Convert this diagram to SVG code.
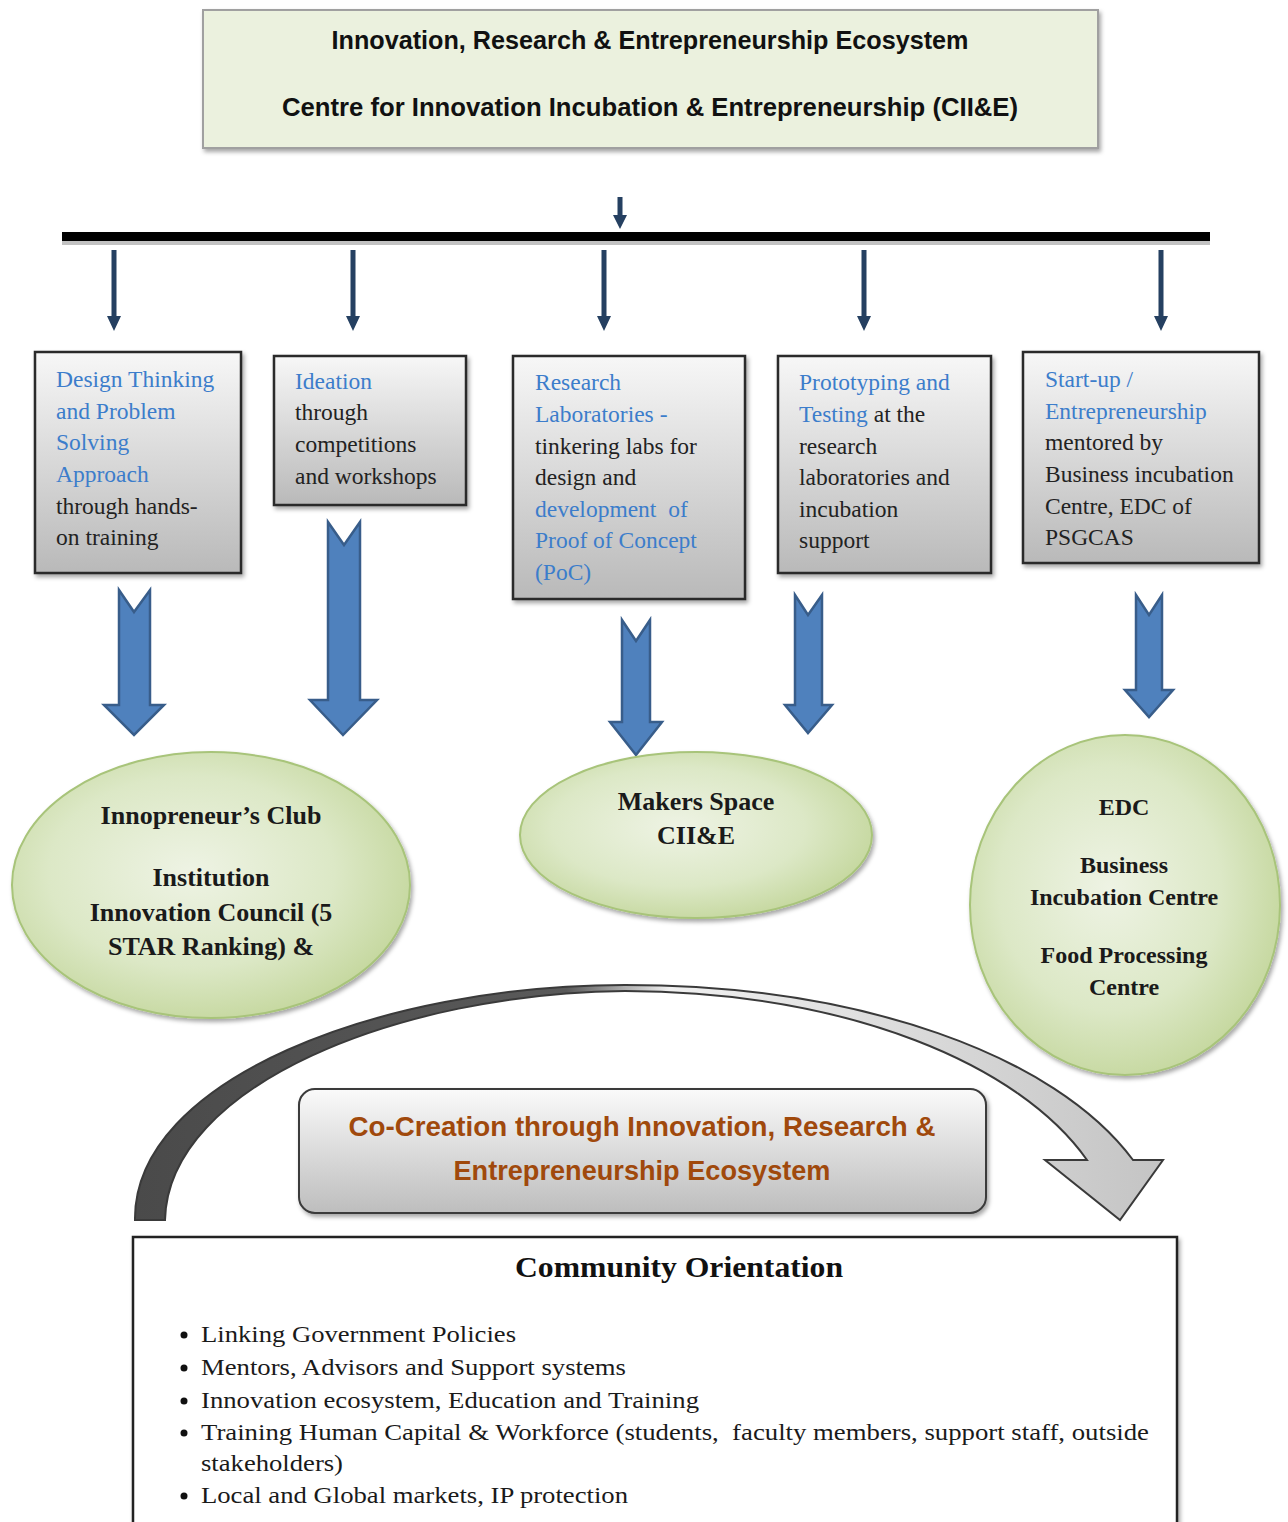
<svg xmlns="http://www.w3.org/2000/svg" width="1288" height="1522" viewBox="0 0 1288 1522">
<style>
.sans{font-family:"Liberation Sans",Arial,sans-serif;font-weight:bold}
.ser{font-family:"Liberation Serif","Times New Roman",serif}
.bt{font-size:23.5px;fill:#222}
.bl{fill:#3c7dcb}
.el{font-family:"Liberation Serif","Times New Roman",serif;font-weight:bold;fill:#1a1a1a;text-anchor:middle}
.gbox{fill:url(#gray);stroke:#2b2b2b;stroke-width:2.5;filter:url(#sh)}
.ell{fill:url(#green);stroke:#a8c47a;stroke-width:2;filter:url(#sh)}
.big{fill:#4f81bd;stroke:#385d8a;stroke-width:2.5}
.sm{fill:#254061}
.li{font-family:"Liberation Serif","Times New Roman",serif;font-size:24px;fill:#1a1a1a}
</style>
<defs>
<linearGradient id="gray" x1="0" y1="0" x2="0" y2="1">
<stop offset="0" stop-color="#f7f7f7"/><stop offset="1" stop-color="#b9b9b9"/>
</linearGradient>
<linearGradient id="gray2" x1="0" y1="0" x2="0" y2="1">
<stop offset="0" stop-color="#fafafa"/><stop offset="1" stop-color="#bdbdbd"/>
</linearGradient>
<radialGradient id="green" cx="0.45" cy="0.45" r="0.6">
<stop offset="0" stop-color="#eef3e4"/><stop offset="0.6" stop-color="#dce8c6"/><stop offset="1" stop-color="#c3d69b"/>
</radialGradient>
<linearGradient id="curve" x1="0" y1="0" x2="1" y2="0">
<stop offset="0" stop-color="#4a4a4a"/><stop offset="0.42" stop-color="#5a5a5a"/><stop offset="0.52" stop-color="#f0f0f0"/><stop offset="1" stop-color="#c4c4c4"/>
</linearGradient>
<filter id="sh" x="-10%" y="-10%" width="125%" height="125%">
<feDropShadow dx="2" dy="3" stdDeviation="2" flood-color="#000" flood-opacity="0.35"/>
</filter>
</defs>

<g id="top-box">
<rect x="203" y="10" width="895" height="138" fill="#ebf1de" stroke="#a0a0a0" stroke-width="2" filter="url(#sh)"/>
<text class="sans" x="650" y="49" font-size="25" text-anchor="middle" textLength="637" lengthAdjust="spacingAndGlyphs" fill="#111">Innovation, Research &amp; Entrepreneurship Ecosystem</text>
<text class="sans" x="650" y="116" font-size="25" text-anchor="middle" textLength="736" lengthAdjust="spacingAndGlyphs" fill="#111">Centre for Innovation Incubation &amp; Entrepreneurship (CII&amp;E)</text>
</g>

<g id="connectors">
<path class="sm" d="M617.5,197 L622.5,197 L622.5,215 L627,215 L620,229 L613,215 L617.5,215 Z"/>
<rect x="62" y="239" width="1148" height="6" fill="#999" opacity="0.6"/>
<rect x="62" y="232" width="1148" height="9" fill="#000"/>
<path class="sm" d="M111.5,250 L116.5,250 L116.5,316 L121,316 L114,331 L107,316 L111.5,316 Z"/>
<path class="sm" d="M350.5,250 L355.5,250 L355.5,316 L360,316 L353,331 L346,316 L350.5,316 Z"/>
<path class="sm" d="M601.5,250 L606.5,250 L606.5,316 L611,316 L604,331 L597,316 L601.5,316 Z"/>
<path class="sm" d="M861.5,250 L866.5,250 L866.5,316 L871,316 L864,331 L857,316 L861.5,316 Z"/>
<path class="sm" d="M1158.5,250 L1163.5,250 L1163.5,316 L1168,316 L1161,331 L1154,316 L1158.5,316 Z"/>

<path class="big" d="M119,590 L134,612 L150,590 L150,705 L164,705 L134,735 L104,705 L119,705 Z"/>
<path class="big" d="M328,522 L344,545 L360,522 L360,700 L377,700 L343,735 L310,700 L328,700 Z"/>
<path class="big" d="M622,620 L636,641 L650,620 L650,722 L662,722 L636,755 L610,722 L622,722 Z"/>
<path class="big" d="M795,595 L808,615 L822,595 L822,705 L832,705 L808,733 L785,705 L795,705 Z"/>
<path class="big" d="M1136,595 L1149,615 L1162,595 L1162,690 L1173,690 L1149,717 L1125,690 L1136,690 Z"/>

<path d="M135,1220 C133,1080 380,985 625,985 C860,985 1055,1055 1133,1160 L1163,1160 L1120,1220 L1045,1160 L1087,1160 C1020,1065 850,992 625,991 C400,993 168,1085 165,1220 Z" fill="url(#curve)" stroke="#3a3a3a" stroke-width="2"/>
</g>

<g id="box-design">
<rect class="gbox" x="35" y="352" width="206" height="221"/>
<text class="ser bt" x="56"><tspan class="bl" x="56" y="387">Design Thinking</tspan><tspan class="bl" x="56" y="418.5">and Problem</tspan><tspan class="bl" x="56" y="450">Solving</tspan><tspan class="bl" x="56" y="482">Approach</tspan><tspan x="56" y="514">through hands-</tspan><tspan x="56" y="545">on training</tspan></text>
</g>

<g id="box-ideation">
<rect class="gbox" x="274" y="356" width="192" height="149"/>
<text class="ser bt"><tspan class="bl" x="295" y="389">Ideation</tspan><tspan x="295" y="420">through</tspan><tspan x="295" y="452">competitions</tspan><tspan x="295" y="484">and workshops</tspan></text>
</g>

<g id="box-research">
<rect class="gbox" x="513" y="356" width="232" height="243"/>
<text class="ser bt"><tspan class="bl" x="535" y="390">Research</tspan><tspan class="bl" x="535" y="422">Laboratories -</tspan><tspan x="535" y="454">tinkering labs for</tspan><tspan x="535" y="485">design and</tspan><tspan class="bl" x="535" y="517" xml:space="preserve">development  of</tspan><tspan class="bl" x="535" y="548">Proof of Concept</tspan><tspan class="bl" x="535" y="580">(PoC)</tspan></text>
</g>

<g id="box-prototyping">
<rect class="gbox" x="778" y="356" width="213" height="217"/>
<text class="ser bt"><tspan class="bl" x="799" y="390">Prototyping and</tspan><tspan class="bl" x="799" y="422">Testing</tspan><tspan> at the</tspan><tspan x="799" y="454">research</tspan><tspan x="799" y="485">laboratories and</tspan><tspan x="799" y="517">incubation</tspan><tspan x="799" y="548">support</tspan></text>
</g>

<g id="box-startup">
<rect class="gbox" x="1023" y="352" width="236" height="211"/>
<text class="ser bt"><tspan class="bl" x="1045" y="387">Start-up /</tspan><tspan class="bl" x="1045" y="418.5">Entrepreneurship</tspan><tspan x="1045" y="450">mentored by</tspan><tspan x="1045" y="482">Business incubation</tspan><tspan x="1045" y="514">Centre, EDC of</tspan><tspan x="1045" y="545">PSGCAS</tspan></text>
</g>

<g id="ellipse-innopreneur">
<ellipse class="ell" cx="211" cy="885" rx="199" ry="133"/>
<text class="el" font-size="26"><tspan x="211" y="824">Innopreneur’s Club</tspan><tspan x="211" y="886">Institution</tspan><tspan x="211" y="921">Innovation Council (5</tspan><tspan x="211" y="955">STAR Ranking) &amp;</tspan></text>
</g>

<g id="ellipse-makers">
<ellipse class="ell" cx="696" cy="835" rx="176" ry="83"/>
<text class="el" font-size="26"><tspan x="696" y="810">Makers Space</tspan><tspan x="696" y="844">CII&amp;E</tspan></text>
</g>

<g id="ellipse-edc">
<ellipse class="ell" cx="1125" cy="905" rx="155" ry="170"/>
<text class="el" font-size="24"><tspan x="1124" y="815">EDC</tspan><tspan x="1124" y="873">Business</tspan><tspan x="1124" y="905">Incubation Centre</tspan><tspan x="1124" y="963">Food Processing</tspan><tspan x="1124" y="995">Centre</tspan></text>
</g>

<g id="co-creation">
<rect x="299" y="1089" width="687" height="124" rx="16" fill="url(#gray2)" stroke="#3a3a3a" stroke-width="2" filter="url(#sh)"/>
<text class="sans" x="642" y="1136" font-size="28" text-anchor="middle" fill="#a0490c" textLength="587" lengthAdjust="spacingAndGlyphs">Co-Creation through Innovation, Research &amp;</text>
<text class="sans" x="642" y="1180" font-size="28" text-anchor="middle" fill="#a0490c" textLength="377" lengthAdjust="spacingAndGlyphs">Entrepreneurship Ecosystem</text>
</g>

<g id="community">
<rect x="133" y="1237" width="1044" height="300" fill="#fff" stroke="#222" stroke-width="2.5" filter="url(#sh)"/>
<text class="ser" x="679" y="1277" font-size="30" font-weight="bold" text-anchor="middle" fill="#111" textLength="328" lengthAdjust="spacingAndGlyphs">Community Orientation</text>
<g fill="#111">
<circle cx="184" cy="1335" r="3.5"/><circle cx="184" cy="1368" r="3.5"/><circle cx="184" cy="1401" r="3.5"/><circle cx="184" cy="1433" r="3.5"/><circle cx="184" cy="1496" r="3.5"/>
</g>
<text class="li" x="201" y="1342" textLength="315" lengthAdjust="spacingAndGlyphs">Linking Government Policies</text>
<text class="li" x="201" y="1375" textLength="425" lengthAdjust="spacingAndGlyphs">Mentors, Advisors and Support systems</text>
<text class="li" x="201" y="1408" textLength="498" lengthAdjust="spacingAndGlyphs">Innovation ecosystem, Education and Training</text>
<text class="li" x="201" y="1440" textLength="948" lengthAdjust="spacingAndGlyphs" xml:space="preserve">Training Human Capital &amp; Workforce (students,  faculty members, support staff, outside</text>
<text class="li" x="201" y="1471" textLength="142" lengthAdjust="spacingAndGlyphs">stakeholders)</text>
<text class="li" x="201" y="1503" textLength="427" lengthAdjust="spacingAndGlyphs">Local and Global markets, IP protection</text>
</g>
</svg>
